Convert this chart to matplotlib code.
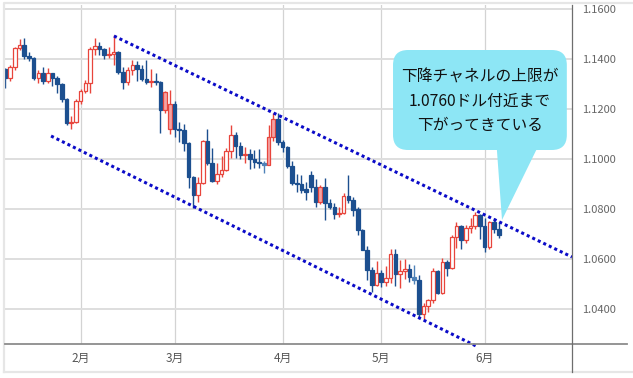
import numpy as np
import pandas as pd
import matplotlib
matplotlib.use("Agg")
import matplotlib.pyplot as plt
from matplotlib.patches import FancyBboxPatch, Polygon
from matplotlib.lines import Line2D

plt.rcParams['font.family'] = ['Noto Sans CJK JP', 'DejaVu Sans']

# -----------------------------
# Data: EUR/USD daily candles
# -----------------------------
DATES = pd.bdate_range("2022-01-10", "2022-06-06")

OPEN = [
    # Jan
    1.1359, 1.1326, 1.1368, 1.1443, 1.1455, 1.1412, 1.1406, 1.1325, 1.1343, 1.1312,
    1.1343, 1.1325, 1.1301, 1.1240, 1.1144, 1.1147,
    # Feb
    1.1234, 1.1271, 1.1303, 1.1441, 1.1453, 1.1441, 1.1415, 1.1422, 1.1430, 1.1349,
    1.1307, 1.1358, 1.1375, 1.1360, 1.1322, 1.1307, 1.1312, 1.1309, 1.1198, 1.1120,
    # Mar
    1.1220, 1.1120, 1.1118, 1.1064, 1.0929, 1.0855, 1.0904, 1.1074, 1.0985, 1.0911,
    1.0941, 1.0956, 1.1033, 1.1095, 1.1051, 1.1016, 1.1022, 1.1002, 1.0990, 1.0983,
    1.0975, 1.1088, 1.1159,
    # Apr
    1.1067, 1.1049, 1.0971, 1.0904, 1.0900, 1.0880, 1.0935, 1.0888, 1.0828, 1.0888,
    1.0825, 1.0808, 1.0779, 1.0786, 1.0852, 1.0835, 1.0798, 1.0715, 1.0638, 1.0556,
    1.0498,
    # May
    1.0545, 1.0509, 1.0523, 1.0619, 1.0540, 1.0551, 1.0561, 1.0530, 1.0515, 1.0380,
    1.0411, 1.0437, 1.0553, 1.0465, 1.0587, 1.0563, 1.0690, 1.0733, 1.0676, 1.0725,
    1.0733, 1.0778,
    # Jun
    1.0732, 1.0648, 1.0750, 1.0719,
]
HIGH = [
    1.1363, 1.1375, 1.1450, 1.1482, 1.1483, 1.1428, 1.1410, 1.1358, 1.1369, 1.1365,
    1.1346, 1.1331, 1.1303, 1.1245, 1.1174, 1.1239,
    1.1280, 1.1318, 1.1450, 1.1483, 1.1468, 1.1446, 1.1449, 1.1495, 1.1432, 1.1370,
    1.1367, 1.1395, 1.1394, 1.1375, 1.1395, 1.1361, 1.1343, 1.1313, 1.1274, 1.1275,
    1.1233, 1.1150, 1.1140, 1.1070, 1.0934, 1.0930, 1.1078, 1.1121, 1.1044, 1.0985,
    1.1014, 1.1045, 1.1137, 1.1108, 1.1068, 1.1047, 1.1041, 1.1036, 1.1039, 1.0991,
    1.1137, 1.1185, 1.1183,
    1.1077, 1.1054, 1.0994, 1.0939, 1.0937, 1.0907, 1.0954, 1.0921, 1.0898, 1.0924,
    1.0840, 1.0824, 1.0808, 1.0866, 1.0936, 1.0849, 1.0808, 1.0720, 1.0651, 1.0570,
    1.0594,
    1.0555, 1.0571, 1.0642, 1.0642, 1.0598, 1.0600, 1.0579, 1.0577, 1.0535, 1.0426,
    1.0440, 1.0564, 1.0555, 1.0606, 1.0598, 1.0698, 1.0749, 1.0737, 1.0735, 1.0765,
    1.0787, 1.0779,
    1.0764, 1.0754, 1.0765, 1.0749,
]
LOW = [
    1.1285, 1.1313, 1.1356, 1.1436, 1.1401, 1.1393, 1.1316, 1.1303, 1.1300, 1.1305,
    1.1292, 1.1263, 1.1230, 1.1138, 1.1121, 1.1145,
    1.1219, 1.1263, 1.1266, 1.1418, 1.1415, 1.1400, 1.1404, 1.1376, 1.1340, 1.1280,
    1.1297, 1.1336, 1.1314, 1.1312, 1.1300, 1.1290, 1.1295, 1.1106, 1.1184, 1.1101,
    1.1090, 1.1070, 1.1031, 1.0886, 1.0806, 1.0829, 1.0902, 1.0977, 1.0910, 1.0901,
    1.0927, 1.0951, 1.1005, 1.1004, 1.1000, 1.0986, 1.0962, 1.0963, 1.0964, 1.0944,
    1.0975, 1.1071, 1.1055,
    1.1027, 1.0964, 1.0898, 1.0867, 1.0865, 1.0836, 1.0867, 1.0810, 1.0821, 1.0757,
    1.0802, 1.0760, 1.0770, 1.0779, 1.0826, 1.0771, 1.0698, 1.0635, 1.0515, 1.0470,
    1.0491,
    1.0490, 1.0492, 1.0505, 1.0493, 1.0483, 1.0522, 1.0510, 1.0502, 1.0365, 1.0360,
    1.0390, 1.0425, 1.0460, 1.0462, 1.0531, 1.0560, 1.0644, 1.0641, 1.0665, 1.0703,
    1.0719, 1.0681,
    1.0627, 1.0640, 1.0703, 1.0685,
]
CLOSE = [
    1.1326, 1.1368, 1.1443, 1.1455, 1.1412, 1.1406, 1.1325, 1.1343, 1.1312, 1.1343,
    1.1325, 1.1301, 1.1240, 1.1144, 1.1147, 1.1234,
    1.1271, 1.1303, 1.1441, 1.1453, 1.1441, 1.1415, 1.1422, 1.1430, 1.1349, 1.1307,
    1.1358, 1.1375, 1.1360, 1.1322, 1.1307, 1.1312, 1.1309, 1.1195, 1.1270, 1.1220,
    1.1120, 1.1118, 1.1064, 1.0929, 1.0855, 1.0904, 1.1074, 1.0985, 1.0911, 1.0941,
    1.0956, 1.1033, 1.1095, 1.1051, 1.1016, 1.1022, 1.1002, 1.0990, 1.0983, 1.0975,
    1.1088, 1.1159, 1.1067,
    1.1049, 1.0971, 1.0904, 1.0900, 1.0876, 1.0870, 1.0888, 1.0828, 1.0888, 1.0825,
    1.0808, 1.0779, 1.0786, 1.0852, 1.0835, 1.0798, 1.0715, 1.0638, 1.0556, 1.0498,
    1.0545,
    1.0509, 1.0523, 1.0619, 1.0540, 1.0551, 1.0561, 1.0530, 1.0515, 1.0380, 1.0411,
    1.0437, 1.0553, 1.0465, 1.0587, 1.0563, 1.0690, 1.0733, 1.0676, 1.0725, 1.0733,
    1.0778, 1.0732,
    1.0648, 1.0750, 1.0719, 1.0695,
]

# candles drawn with a lighter shade on the original chart
PINK_DAYS = ["2022-02-25", "2022-02-28", "2022-03-29", "2022-03-30", "2022-04-13"]
LIGHT_BLUE_DAYS = ["2022-03-28", "2022-05-11"]

# channel lines: (trading-day position, price)
UPPER_X = [23.1, 120.6]
UPPER_Y = [1.1492, 1.0608]
LOWER_X = [9.7, 100.6]
LOWER_Y = [1.1092, 1.0248]

Y_TICKS = [1.04, 1.06, 1.08, 1.10, 1.12, 1.14, 1.16]
NOTE = "下降チャネルの上限が\n1.0760ドル付近まで\n下がってきている"

# -----------------------------
# Style
# -----------------------------
W, H = 633, 378
UP_COLOR = "#e8453c"
DOWN_COLOR = "#1c4f8f"
PINK = "#f5a3a3"
LIGHT_BLUE = "#4f82b8"
CHANNEL = "#0b0bc8"
CALLOUT = "#8de6f5"

XLIM = (-0.1, 120.6)
YLIM = (1.026, 1.1616)


def fx(px):
    return px / W


def fy(py):
    return 1 - py / H


def main():
    fig = plt.figure(figsize=(W / 100, H / 100), dpi=100)
    ax = fig.add_axes([fx(5), fy(344), fx(572) - fx(5), fy(5) - fy(344)])

    n = len(DATES)
    xs = np.arange(n)
    pink = set(pd.to_datetime(PINK_DAYS))
    lblue = set(pd.to_datetime(LIGHT_BLUE_DAYS))

    for i in range(n):
        o, h, l, c = OPEN[i], HIGH[i], LOW[i], CLOSE[i]
        d = DATES[i]
        up = c >= o
        if up:
            edge = UP_COLOR
            face = PINK if d in pink else "white"
        else:
            edge = LIGHT_BLUE if d in lblue else DOWN_COLOR
            face = edge
        ax.vlines(xs[i], l, h, color=edge, lw=1.0, zorder=3)
        bottom = min(o, c)
        height = max(abs(c - o), 0.0004)
        ax.bar(xs[i], height, bottom=bottom, width=0.76, color=face,
               edgecolor=edge, linewidth=0.9, zorder=4)

    # channel
    for lx, ly in [(UPPER_X, UPPER_Y), (LOWER_X, LOWER_Y)]:
        ax.plot(lx, ly, color=CHANNEL, lw=2.2, linestyle=(0, (1, 1)),
                dash_capstyle="butt", zorder=5, clip_on=False)

    ax.set_xlim(*XLIM)
    ax.set_ylim(*YLIM)

    # month ticks at the first trading day of each month
    months = pd.Series(DATES.month)
    first_idx = [i for i in range(1, n) if months[i] != months[i - 1]]
    ax.set_xticks(first_idx)
    ax.set_xticklabels([f"{DATES[i].month}月" for i in first_idx])
    ax.set_yticks(Y_TICKS)
    ax.set_yticklabels([f"{v:.4f}" for v in Y_TICKS])
    ax.yaxis.tick_right()
    ax.tick_params(axis="both", length=0, labelsize=8, colors="#666666")
    ax.tick_params(axis="x", pad=6, labelsize=8.5, colors="#555555")
    ax.tick_params(axis="y", pad=7)
    ax.grid(True, axis="y", color="#dedede", lw=1.4)
    ax.grid(True, axis="x", color="#d3d3d3", lw=0.9)
    ax.set_axisbelow(True)
    for s in ax.spines.values():
        s.set_visible(False)

    # callout
    aspect = (ax.get_position().height * H / (YLIM[1] - YLIM[0])) ** -1 / \
             (ax.get_position().width * W / (XLIM[1] - XLIM[0])) ** -1
    box = FancyBboxPatch((82.5, 1.1036), 37.0, 0.0400,
                         boxstyle="round,pad=0,rounding_size=3.2",
                         mutation_aspect=aspect, facecolor=CALLOUT,
                         edgecolor="none", zorder=6)
    ax.add_patch(box)
    ax.add_patch(Polygon([(104.6, 1.1040), (113.1, 1.1040), (105.7, 1.0756)],
                         closed=True, facecolor=CALLOUT, edgecolor="none", zorder=6))
    ax.text(101.0, 1.1232, NOTE, ha="center", va="center", fontsize=11.3,
            linespacing=1.55, color="#111111", zorder=7)

    # frame lines around the chart
    fig.add_artist(Line2D([fx(4), fx(4), 1], [fy(372), fy(3), fy(3)],
                          color="#e6e6e6", lw=1.6))
    fig.add_artist(Line2D([fx(4), 1], [fy(372), fy(372)], color="#e6e6e6", lw=1.6))
    fig.add_artist(Line2D([fx(5), fx(627)], [fy(344), fy(344)], color="#8c8c8c", lw=1.3))
    fig.add_artist(Line2D([fx(572), fx(572)], [fy(5), fy(372)], color="#6e6e6e", lw=0.9))

    fig.savefig("out.png", dpi=100)
    plt.close(fig)


if __name__ == "__main__":
    main()
